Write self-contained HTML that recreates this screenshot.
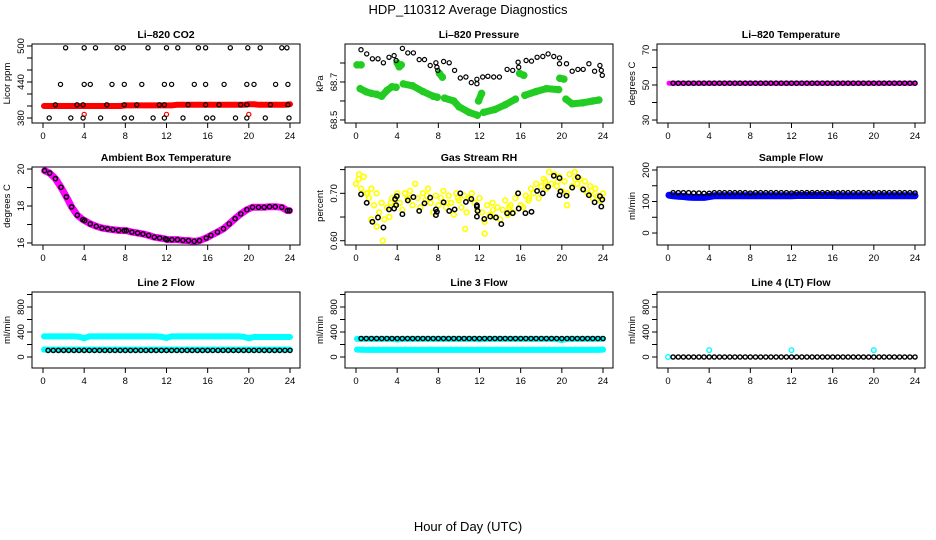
<!DOCTYPE html>
<html><head><meta charset="utf-8"><style>
body{margin:0;background:#fff;}
svg{display:block;font-family:"Liberation Sans",Arial,sans-serif;}
</style></head><body>
<svg id="chart" width="936" height="540" viewBox="0 0 936 540" xmlns="http://www.w3.org/2000/svg">
<rect width="936" height="540" fill="#fff"/>
<text x="468" y="14" font-size="13" text-anchor="middle">HDP_110312  Average Diagnostics</text>
<text x="468" y="531" font-size="13" text-anchor="middle">Hour of Day (UTC)</text>
</svg>
<script>
// ---- shared x data ----
const xTicks = [0,4,8,12,16,20,24];
const H48 = [0.5,1,1.5,2,2.5,3,3.5,4,4.5,5,5.5,6,6.5,7,7.5,8,8.5,9,9.5,10,10.5,11,11.5,12,12.5,13,13.5,14,14.5,15,15.5,16,16.5,17,17.5,18,18.5,19,19.5,20,20.5,21,21.5,22,22.5,23,23.5,24];
const H49 = [0.1,0.5,1,1.5,2,2.5,3,3.5,4,4.5,5,5.5,6,6.5,7,7.5,8,8.5,9,9.5,10,10.5,11,11.5,12,12.5,13,13.5,14,14.5,15,15.5,16,16.5,17,17.5,18,18.5,19,19.5,20,20.5,21,21.5,22,22.5,23,23.5,24];

// ---- CO2 ----
const co2Ticks = [380,400,420,440,460,480,500];
const co2Labels = [380,440,500];
const co2BlackX = [2.2,4.0,5.1,7.2,7.8,10.2,12.0,13.1,15.1,15.8,18.2,19.9,21.1,23.2,23.7, 1.7,4.0,4.6,6.7,7.9,9.6,11.8,12.5,14.7,15.8,17.6,19.8,20.5,22.6,23.8, 1.2,3.3,3.9,6.2,7.9,9.1,11.3,11.8,14.1,15.8,17.1,19.2,19.8,22.1,23.8, 0.6,2.7,3.9,5.6,7.9,8.6,10.7,11.8,13.6,15.9,16.5,18.7,19.8,21.6,23.9];
const co2BlackY = [497,497,497,497,497,497,497,497,497,497,497,497,497,497,497, 436,436,436,436,436,436,436,436,436,436,436,436,436,436,436, 402,402,402,402,402,402,402,402,402,402,402,402,402,402,402, 380,380,380,380,380,380,380,380,380,380,380,380,380,380,380];
const co2RedY = [400,400,400,400,400,400,400,400,400,400,400,400,400,400,400,400,401,401,401,401,401,401,401,401,401,401,402,402,402,402,402,402,402,402,402,402,402,402,402,402,403,403,402,402,402,402,402,402,403];
const co2RedOutX = [4,12,20];
const co2RedOutY = [386,386,386];

// ---- Pressure ----
const presTicks = [68.5,68.6,68.7,68.8];
const presLabels = [68.5,68.7];
const presBlackX = [0.49,1.04,1.59,2.14,2.66,3.21,3.70,3.90,4.51,5.03,5.58,6.14,6.66,7.21,7.76,7.86,7.95,8.51,9.06,9.58,10.13,10.68,11.20,11.75,11.75,12.31,12.82,13.38,13.93,14.68,15.23,15.75,15.81,16.53,17.05,17.60,18.15,18.67,19.22,19.77,19.77,20.45,21.01,21.56,22.08,22.63,23.18,23.70,23.83,23.93];
const presBlackY = [68.870,68.848,68.822,68.822,68.801,68.830,68.839,68.813,68.877,68.853,68.853,68.818,68.818,68.787,68.801,68.778,68.761,68.808,68.801,68.761,68.721,68.726,68.697,68.714,68.691,68.726,68.730,68.726,68.726,68.766,68.761,68.804,68.778,68.813,68.810,68.830,68.834,68.848,68.834,68.827,68.796,68.796,68.757,68.766,68.766,68.796,68.757,68.787,68.761,68.735];
const presGreenX = [0.1,0.5,null,0.4,1.0,1.5,2.0,2.5,3.0,3.5,3.9,null,4.0,4.2,4.4,null,4.6,5.5,6.5,7.5,7.9,null,8.1,8.4,null,8.6,9.5,10.0,11.0,11.8,null,11.9,12.2,null,12.4,13.5,14.5,15.5,null,15.9,16.3,null,16.4,17.5,18.5,19.7,null,19.8,20.2,null,20.4,21.0,22.0,23.0,23.6];
const presGreenY = [68.79,68.79,null,68.665,68.648,68.640,68.635,68.625,68.655,68.675,68.672,null,68.80,68.78,68.79,null,68.690,68.680,68.650,68.625,68.620,null,68.745,68.725,null,68.615,68.600,68.570,68.540,68.525,null,68.600,68.640,null,68.540,68.555,68.580,68.610,null,68.745,68.735,null,68.630,68.650,68.665,68.660,null,68.720,68.715,null,68.610,68.585,68.590,68.600,68.605];

// ---- Li-820 Temperature ----
const tempTicks = [30,40,50,60,70];
const tempLabels = [30,50,70];
const tempBlackY = [51,51,51,51,51,51,51,51,51,51,51,51,51,51,51,51,51,51,51,51,51,51,51,51,51,51,51,51,51,51,51,51,51,51,51,51,51,51,51,51,51,51,51,51,51,51,51,51];
const tempMagY = [51,51,51,51,51,51,51,51,51,51,51,51,51,51,51,51,51,51,51,51,51,51,51,51,51,51,51,51,51,51,51,51,51,51,51,51,51,51,51,51,51,51,51,51,51,51,51,51,51];

// ---- Ambient Box Temperature ----
const ambTicks = [16,17,18,19,20];
const ambLabels = [16,18,20];
const ambX = [0.16,0.65,1.20,1.75,2.27,2.78,3.33,3.88,4.05,4.60,5.18,5.73,6.28,6.80,7.35,7.90,8.09,8.64,9.19,9.71,10.26,10.81,11.33,11.88,12.04,12.52,13.07,13.59,14.14,14.69,15.21,15.86,16.31,16.96,17.54,18.09,18.67,19.22,19.81,20.36,20.94,21.49,22.01,22.56,23.20,23.75,23.95];
const ambBlackY = [19.91,19.78,19.48,19.01,18.49,17.95,17.50,17.26,17.21,17.03,16.90,16.81,16.76,16.72,16.68,16.67,16.67,16.59,16.54,16.49,16.41,16.31,16.27,16.22,16.18,16.18,16.18,16.14,16.13,16.09,16.13,16.27,16.41,16.59,16.77,17.03,17.32,17.57,17.80,17.93,17.93,17.93,17.96,17.96,17.93,17.75,17.75];
const ambMagY = [19.91,19.78,19.48,19.01,18.49,17.95,17.50,17.26,17.21,17.03,16.90,16.81,16.76,16.72,16.68,16.67,16.67,16.59,16.54,16.49,16.41,16.31,16.27,16.22,16.18,16.18,16.18,16.14,16.13,16.09,16.13,16.27,16.41,16.59,16.77,17.03,17.32,17.57,17.80,17.93,17.93,17.93,17.96,17.96,17.93,17.75,17.75];

// ---- Gas Stream RH ----
const rhTicks = [0.60,0.65,0.70,0.75];
const rhLabels = ["0.60","0.70"];
const rhBlackX = [0.49,1.04,1.59,2.14,2.66,3.21,3.70,3.80,3.90,3.96,4.51,5.03,5.58,6.14,6.66,7.21,7.76,7.76,7.86,8.51,9.06,9.58,10.13,10.68,11.20,11.75,11.75,11.75,11.82,12.47,13.05,13.60,14.12,14.68,15.23,15.75,15.81,16.46,17.05,17.60,18.15,18.67,19.22,19.77,19.77,19.87,20.45,21.01,21.56,22.08,22.63,23.18,23.70,23.83,23.93];
const rhBlackY = [0.698,0.680,0.640,0.649,0.628,0.666,0.668,0.688,0.675,0.694,0.656,0.685,0.692,0.663,0.679,0.691,0.666,0.654,0.661,0.681,0.663,0.666,0.700,0.682,0.688,0.675,0.672,0.651,0.663,0.646,0.651,0.649,0.635,0.658,0.658,0.700,0.668,0.658,0.661,0.705,0.700,0.714,0.737,0.732,0.696,0.704,0.695,0.712,0.734,0.708,0.696,0.681,0.694,0.672,0.687];
const rhYellowX = [0,0.25,0.5,0.75,1,1.25,1.5,1.75,2,2.25,2.5,2.75,3,3.25,3.5,3.75,4,4.25,4.5,4.75,5,5.25,5.5,5.75,6,6.25,6.5,6.75,7,7.25,7.5,7.75,8,8.25,8.5,8.75,9,9.25,9.5,9.75,10,10.25,10.5,10.75,11,11.25,11.5,11.75,12,12.25,12.5,12.75,13,13.25,13.5,13.75,14,14.25,14.5,14.75,15,15.25,15.5,15.75,16,16.25,16.5,16.75,17,17.25,17.5,17.75,18,18.25,18.5,18.75,19,19.25,19.5,19.75,20,20.25,20.5,20.75,21,21.25,21.5,21.75,22,22.25,22.5,22.75,23,23.25,23.5,23.75,24, 2.6,10.6,12.5,1.5,2.0,20.5,0.3,1.1,3.4,5.2,6.9,8.8,9.9,13.3,14.9,16.8,18.4,19.6,21.3,22.9];
const rhYellowY = [0.72,0.73,0.71,0.735,0.70,0.69,0.71,0.675,0.70,0.66,0.68,0.645,0.67,0.65,0.69,0.675,0.70,0.68,0.665,0.70,0.69,0.705,0.675,0.72,0.69,0.67,0.70,0.685,0.71,0.68,0.66,0.695,0.675,0.69,0.705,0.67,0.695,0.68,0.655,0.70,0.685,0.67,0.695,0.66,0.69,0.70,0.68,0.665,0.69,0.66,0.64,0.675,0.655,0.68,0.65,0.67,0.645,0.665,0.685,0.655,0.675,0.66,0.69,0.70,0.675,0.67,0.695,0.685,0.71,0.70,0.72,0.69,0.715,0.73,0.71,0.745,0.72,0.74,0.715,0.735,0.705,0.725,0.70,0.74,0.715,0.745,0.72,0.73,0.71,0.725,0.70,0.715,0.69,0.71,0.695,0.685,0.70, 0.60,0.625,0.615,0.645,0.63,0.675,0.74,0.70,0.68,0.69,0.695,0.68,0.69,0.665,0.67,0.69,0.725,0.725,0.73,0.705];

// ---- Sample Flow ----
const sfTicks = [0,50,100,150,200];
const sfLabels = [0,100,200];
const sfBlackY = [128,128,128,128,127,127,126,126,128,128,128,128,128,128,128,127,128,128,128,128,128,128,128,127,128,128,128,128,128,128,128,127,128,128,128,128,128,128,128,127,128,128,128,128,128,128,128,127];
const sfBlueY = [120,118,117,116,114,113,113,113,116,118,118,118,118,118,118,118,118,118,118,118,118,118,118,118,118,119,119,119,119,119,119,119,119,118,118,118,118,118,118,118,118,118,118,118,118,118,118,118,118];

// ---- Line flows ----
const lfTicks = [0,200,400,600,800,1000];
const lfLabels = [0,400,800];
const l2CyanHiY = [330,330,330,330,330,330,330,325,300,330,330,330,330,330,330,330,330,330,330,330,330,330,330,325,305,330,330,330,330,330,330,330,330,330,330,330,330,330,330,325,300,320,320,320,320,320,320,320,320];
const l2CyanLoY = [118,118,118,118,118,118,118,118,118,118,118,118,118,118,118,118,118,118,118,118,118,118,118,118,118,118,118,118,118,118,118,118,118,118,118,118,118,118,118,118,118,118,118,118,118,118,118,118,118];
const l2BlackY = [105,105,105,105,105,105,105,105,105,105,105,105,105,105,105,105,105,105,105,105,105,105,105,105,105,105,105,105,105,105,105,105,105,105,105,105,105,105,105,105,105,105,105,105,105,105,105,105];
const l3CyanHiY = [290,290,290,290,290,290,290,290,280,290,290,290,290,290,290,290,290,290,290,290,290,290,290,290,285,290,290,290,290,290,290,290,290,290,290,290,290,290,290,290,270,290,290,290,290,290,290,290,290];
const l3CyanLoY = [118,116,114,114,114,114,114,114,114,114,114,114,114,114,114,114,114,114,114,114,114,114,114,114,114,114,114,114,114,114,114,114,114,114,114,114,114,114,114,114,114,114,114,114,114,114,114,114,118];
const l3BlackY = [296,296,296,296,296,296,296,296,296,296,296,296,296,296,296,296,296,296,296,296,296,296,296,296,296,296,296,296,296,296,296,296,296,296,296,296,296,296,296,296,296,296,296,296,296,296,296,296];
const l4CyanX = [0,4,12,20];
const l4CyanY = [0,110,110,110];
const l4BlackY = [0,0,0,0,0,0,0,0,0,0,0,0,0,0,0,0,0,0,0,0,0,0,0,0,0,0,0,0,0,0,0,0,0,0,0,0,0,0,0,0,0,0,0,0,0,0,0,0];

// ---- layout ----
const NS = "http://www.w3.org/2000/svg";
const svg = document.getElementById('chart');
const COLL = [32,345,657], BW = 268;
const ROWB = [[44,123],[167,245],[292,368]];

function el(tag, attrs, parent){
  const e = document.createElementNS(NS, tag);
  for (const k in attrs) e.setAttribute(k, attrs[k]);
  (parent||svg).appendChild(e);
  return e;
}

function makePanel(key, title, ylab, col, row, ymin, ymax, ticks, labels){
  const L = COLL[col], R = L + BW, T = ROWB[row][0], B = ROWB[row][1];
  const g = el('g', {});
  
  
  const xs = h => L + 11 + h * (BW - 21) / 24;
  const ys = v => B - (v - ymin) / (ymax - ymin) * (B - T);
  const plot = el('g', {}, g);
  
  
  const frame = el('rect', {x:L, y:T, width:BW, height:B-T, fill:'none', stroke:'#000', 'stroke-width':1}, g);
  
  
  const t = el('text', {x:(L+R)/2, y:T-6, 'font-size':10.5, 'font-weight':'bold', 'text-anchor':'middle'}, g);
  t.textContent = title;
  
  
  const yl = el('text', {x:0, y:0, 'font-size':9.5, 'text-anchor':'middle', transform:`translate(${L-22},${(T+B)/2}) rotate(-90)`}, g);
  yl.textContent = ylab;
  
  
  const xa = el('g', {}, g);
  
  
  el('line', {x1:xs(xTicks[0]), x2:xs(xTicks[xTicks.length-1]), y1:B, y2:B, stroke:'#000'}, xa);
  xTicks.forEach(h => {
    el('line', {x1:xs(h), x2:xs(h), y1:B, y2:B+5, stroke:'#000'}, xa);
    const lt = el('text', {x:xs(h), y:B+16, 'font-size':9.5, 'text-anchor':'middle'}, xa);
    lt.textContent = h;
    
    
  });
  const ya = el('g', {}, g);
  
  
  ticks.forEach(v => {
    el('line', {x1:L-5, x2:L, y1:ys(v), y2:ys(v), stroke:'#000'}, ya);
  });
  labels.forEach(v => {
    const lt = el('text', {x:0, y:0, 'font-size':9.5, 'text-anchor':'middle', transform:`translate(${L-8},${ys(+v)}) rotate(-90)`}, ya);
    lt.textContent = v;
    
    
  });
  return {plot, xs, ys};
}

function band(p, name, X, Y, color, w){
  let d = '', pen = false;
  for (let i = 0; i < X.length; i++){
    if (X[i] === null || Y[i] === null){ pen = false; continue; }
    d += (pen ? 'L' : 'M') + p.xs(X[i]).toFixed(1) + ',' + p.ys(Y[i]).toFixed(1);
    pen = true;
  }
  const path = el('path', {d, fill:'none', stroke:color, 'stroke-width':w, 'stroke-linecap':'round', 'stroke-linejoin':'round'}, p.plot);
  
  
}
function points(p, name, X, Y, color, r, sw){
  const g = el('g', {}, p.plot);
  
  
  for (let i = 0; i < X.length; i++){
    if (X[i] === null) continue;
    el('circle', {cx:p.xs(X[i]).toFixed(1), cy:p.ys(Y[i]).toFixed(1), r, fill:'none', stroke:color, 'stroke-width':sw}, g);
  }
}

let p = makePanel('co2','Li–820 CO2','Licor ppm',0,0,371.7,503.3,co2Ticks,co2Labels);
band(p,'co2-red-band',H49,co2RedY,'#ff0000',6);
points(p,'co2-red-outliers',co2RedOutX,co2RedOutY,'#ff0000',2.1,1.2);
points(p,'co2-black-points',co2BlackX,co2BlackY,'#000',2.1,1.2);

p = makePanel('pressure','Li–820 Pressure','kPa',1,0,68.484,68.9,presTicks,presLabels);
band(p,'pressure-green-band',presGreenX,presGreenY,'#22cc22',7);
points(p,'pressure-green-points',presGreenX,presGreenY,'#22cc22',3,1.5);
points(p,'pressure-black-points',presBlackX,presBlackY,'#000',2.1,1.2);

p = makePanel('li820-temp','Li–820 Temperature','degrees C',2,0,28.3,73.4,tempTicks,tempLabels);
band(p,'li820-temp-magenta-band',H49,tempMagY,'#ff00ff',5);
points(p,'li820-temp-black-points',H48,tempBlackY,'#000',2.1,1.4);

p = makePanel('ambient-temp','Ambient Box Temperature','degrees C',0,1,15.89,20.11,ambTicks,ambLabels);
band(p,'ambient-temp-magenta-band',ambX,ambMagY,'#ff00ff',7);
points(p,'ambient-temp-black-points',ambX,ambBlackY,'#000',2.1,1.4);

p = makePanel('gas-rh','Gas Stream RH','percent',1,1,0.591,0.7555,rhTicks,rhLabels);
points(p,'gas-rh-yellow-points',rhYellowX,rhYellowY,'#ffff00',2.4,1.6);
points(p,'gas-rh-black-points',rhBlackX,rhBlackY,'#000',2.2,1.5);

p = makePanel('sample-flow','Sample Flow','ml/min',2,1,-38,209.5,sfTicks,sfLabels);
band(p,'sample-flow-blue-band',H49,sfBlueY,'#0000ff',7);
points(p,'sample-flow-black-points',H48,sfBlackY,'#000',2.1,1.4);

p = makePanel('line2-flow','Line 2 Flow','ml/min',0,2,-176,1040,lfTicks,lfLabels);
band(p,'line2-cyan-high-band',H49,l2CyanHiY,'#00ffff',6);
band(p,'line2-cyan-low-band',H49,l2CyanLoY,'#00ffff',6);
points(p,'line2-black-points',H48,l2BlackY,'#000',2.1,1.4);

p = makePanel('line3-flow','Line 3 Flow','ml/min',1,2,-176,1040,lfTicks,lfLabels);
band(p,'line3-cyan-high-band',H49,l3CyanHiY,'#00ffff',6);
band(p,'line3-cyan-low-band',H49,l3CyanLoY,'#00ffff',6);
points(p,'line3-black-points',H48,l3BlackY,'#000',2.1,1.4);

p = makePanel('line4-flow','Line 4 (LT) Flow','ml/min',2,2,-176,1040,lfTicks,lfLabels);
points(p,'line4-cyan-points',l4CyanX,l4CyanY,'#00ffff',2.3,1.4);
points(p,'line4-black-points',H48,l4BlackY,'#000',2.1,1.4);
</script>
</body></html>
